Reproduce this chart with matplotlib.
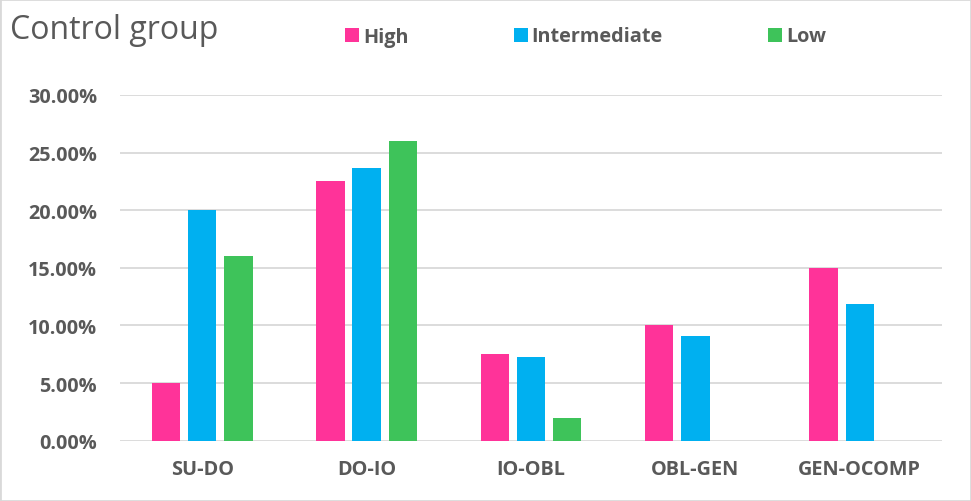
import numpy as np
import matplotlib
matplotlib.use('Agg')
import matplotlib.pyplot as plt
import matplotlib.ticker as mticker
from matplotlib.patches import Rectangle

categories = ['SU-DO', 'DO-IO', 'IO-OBL', 'OBL-GEN', 'GEN-OCOMP']
series_names = ['High', 'Intermediate', 'Low']
high = [0.050, 0.225, 0.075, 0.100, 0.150]
intermediate = [0.200, 0.2365, 0.0727, 0.0906, 0.1184]
low = [0.160, 0.260, 0.020, 0.0, 0.0]
colors = ['#FF3399', '#00B0F0', '#3EC35A']
yticks = [0, 0.05, 0.10, 0.15, 0.20, 0.25, 0.30]

plt.rcParams['font.family'] = ['Open Sans', 'DejaVu Sans']
text_color = '#595959'

fig = plt.figure(figsize=(9.71, 5.02), dpi=100)
ax = fig.add_axes([120 / 971, 1 - 441.7 / 502, 822 / 971, (441.7 - 96) / 502])

x = np.arange(len(categories))
step = 0.22
width = 0.173
bars = []
for i, (vals, name) in enumerate(zip([high, intermediate, low], series_names)):
    b = ax.bar(x + (i - 1) * step, vals, width, color=colors[i], label=name, zorder=3)
    bars.append(b)

ax.set_xlim(-0.5, len(categories) - 0.5)
ax.set_ylim(0, 0.30)
ax.set_yticks(yticks)
ax.yaxis.set_major_formatter(mticker.FuncFormatter(lambda v, p: '{:.2f}%'.format(v * 100)))
ax.set_xticks(x)
ax.set_xticklabels(categories)
ax.grid(axis='y', color='#D9D9D9', linewidth=1.3, zorder=0)
for s in ax.spines.values():
    s.set_visible(False)
ax.tick_params(axis='both', length=0, labelsize=14.3, colors=text_color)
ax.tick_params(axis='y', pad=16.5)
ax.tick_params(axis='x', pad=13.5)
for lbl in ax.get_xticklabels() + ax.get_yticklabels():
    lbl.set_fontweight('bold')

fig.text(10 / 971, 1 - 31 / 502, 'Control group', fontsize=23, color=text_color,
         fontweight='normal', va='center', ha='left')

leg = fig.legend(handles=bars, labels=series_names, loc='center left',
                 bbox_to_anchor=(345 / 971, 1 - 37.5 / 502), ncol=3, frameon=False,
                 borderpad=0, borderaxespad=0, handlelength=0.7, handleheight=0.7,
                 handletextpad=0.2, columnspacing=5.3,
                 prop={'size': 14.3, 'weight': 'bold'})
for t in leg.get_texts():
    t.set_color(text_color)

fig.patches.append(Rectangle((0, 0), 1, 1, transform=fig.transFigure, fill=False,
                             edgecolor='#D9D9D9', linewidth=2))

fig.savefig('out.png', dpi=100)
